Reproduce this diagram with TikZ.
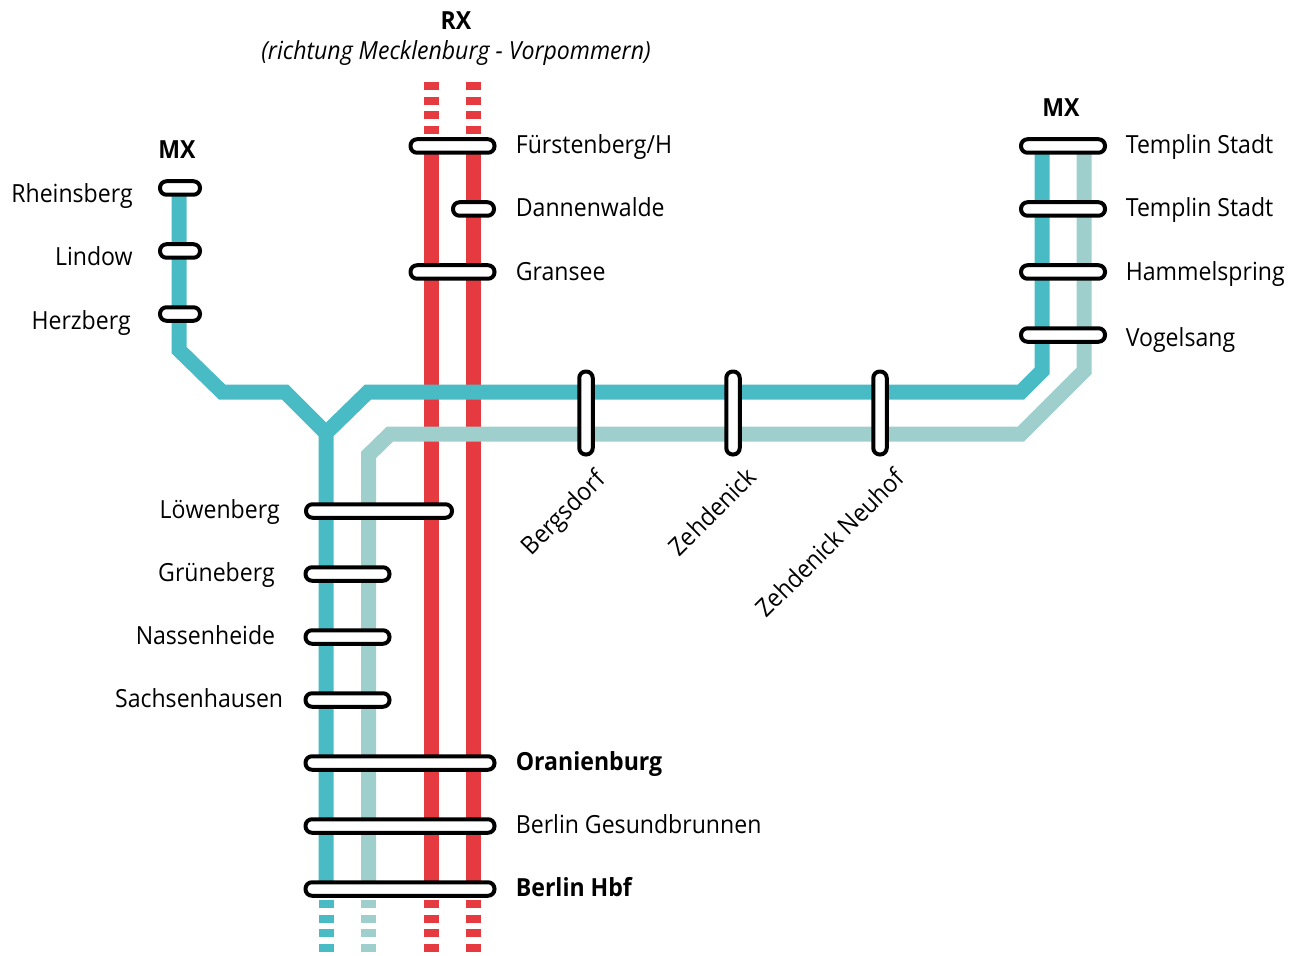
\documentclass[tikz,border=0pt]{standalone}
\usepackage{fontspec}
\setmainfont[FakeStretch=0.925]{Open Sans}
\usetikzlibrary{positioning}
\definecolor{mxline}{RGB}{73,187,196}
\definecolor{mxpale}{RGB}{158,207,205}
\definecolor{rxline}{RGB}{228,58,64}
\tikzset{
    track/.style={line width=15*0.02cm},
    trackdash/.style={line width=15*0.02cm,dash pattern=on 0.16cm off 0.134cm},
    stopbar/.style={draw=black,fill=white,line width=4*0.02cm,rounded corners=0.13cm,inner sep=0pt,
        minimum height=13.5*0.02cm},
    stoptext/.style={font=\fontsize{14.2}{16}\selectfont,inner sep=0pt}
}
\begin{document}
\begin{tikzpicture}[x=0.02cm,y=-0.02cm]
\useasboundingbox (0,0) rectangle (1305,956);

% Red RX tracks
\foreach \x in {431.5,473.5} {
    \draw[rxline,track] (\x,146) -- (\x,889);
    \draw[rxline,trackdash] (\x,82) -- (\x,134);
    \draw[rxline,trackdash] (\x,900) -- (\x,952);
}

% Pale MX track
\draw[mxpale,track,line join=miter] (368.5,889) -- (368.5,455) -- (390,434) -- (1021,434) -- (1084,371) -- (1084,146);
\draw[mxpale,trackdash] (368.5,900) -- (368.5,952);

% Teal MX tracks
\coordinate (fork) at (326,433);
\draw[mxline,track] (179,188) -- (179,350) -- (222,392) -- (285,392) -- (fork);
\draw[mxline,track] (326,889) -- (fork) -- (368,392) -- (1021,392) -- (1042,371) -- (1042,146);
\draw[mxline,trackdash] (326,900) -- (326,952);

% Stops on the left branch
\foreach \id/\name/\y in {rhein/Rheinsberg/188, lindow/Lindow/251, herz/Herzberg/314} {
    \node[stopbar,minimum width=40*0.02cm] (\id) at (180,\y) {};
}
\node[stoptext,anchor=base east] (rheinL) at (133,203) {Rheinsberg};
\node[stoptext,anchor=base east] (lindowL) at (133,266) {Lindow};
\node[stoptext,anchor=base east] (herzL) at (131,329) {Herzberg};
\node[font=\fontsize{14.2}{16}\bfseries,inner sep=0pt,anchor=base] (mxleft) at (177,159) {MX};

% Stops on the RX tracks
\node[stopbar,minimum width=84*0.02cm] (fuerst) at (452.5,146) {};
\node[stopbar,minimum width=41*0.02cm] (dannen) at (473.5,209) {};
\node[stopbar,minimum width=84*0.02cm] (gran) at (452.5,272) {};
\foreach \id/\name/\y in {fuerstL/Fürstenberg\slash H/154, dannenL/Dannenwalde/217, granL/Gransee/280} {
    \node[stoptext,anchor=base west] (\id) at (515.5,\y) {\name};
}
\node[font=\fontsize{14.2}{16}\bfseries,inner sep=0pt,anchor=base] (rx) at (456,30) {RX};
\node[font=\fontsize{14.2}{16}\itshape,inner sep=0pt,anchor=base] (rxdir) at (456,60) {(richtung Mecklenburg - Vorpommern)};

% Stops on the right branch
\foreach \id/\name/\y/\b in {tem/Templin Stadt/146/154, temb/Templin Stadt/209/217, hammel/Hammelspring/272/280, vogel/Vogelsang/335/346} {
    \node[stopbar,minimum width=84*0.02cm] (\id) at (1063,\y) {};
    \node[stoptext,anchor=base west] (\id L) at (1125.5,\b) {\name};
}
\node[font=\fontsize{14.2}{16}\bfseries,inner sep=0pt,anchor=base] (mxright) at (1061,117) {MX};

% Stops on the long stretch
\foreach \id/\x in {berg/586, zeh/733, neuhof/880} {
    \node[stopbar,minimum width=83*0.02cm,rotate=90] (\id) at (\x,413) {};
}
\node[stoptext,rotate=45,anchor=base east] (bergL) at (607,481) {Bergsdorf};
\node[stoptext,rotate=45,anchor=base east] (zehL) at (758,479) {Zehdenick};
\node[stoptext,rotate=45,anchor=base east] (neuhofL) at (906,479.5) {Zehdenick Neuhof};

% Stops on the trunk
\node[stopbar,minimum width=146*0.02cm] (loew) at (379,511) {};
\foreach \id/\y in {grue/574, nass/637, sach/700} {
    \node[stopbar,minimum width=84*0.02cm] (\id) at (347.5,\y) {};
}
\foreach \id/\y in {ora/763, ges/826, hbf/889} {
    \node[stopbar,minimum width=189*0.02cm] (\id) at (400,\y) {};
}
\node[stoptext,anchor=base east] (loewL) at (280,518) {Löwenberg};
\node[stoptext,anchor=base east] (grueL) at (275,581) {Grüneberg};
\node[stoptext,anchor=base east] (nassL) at (275.5,644) {Nassenheide};
\node[stoptext,anchor=base east] (sachL) at (283.5,707) {Sachsenhausen};
\node[stoptext,anchor=base west,font=\fontsize{14.2}{16}\bfseries] (oraL) at (515.5,770) {Oranienburg};
\node[stoptext,anchor=base west] (gesL) at (515.5,833) {Berlin Gesundbrunnen};
\node[stoptext,anchor=base west,font=\fontsize{14.2}{16}\bfseries] (hbfL) at (515.5,896) {Berlin Hbf};

\end{tikzpicture}
\end{document}
